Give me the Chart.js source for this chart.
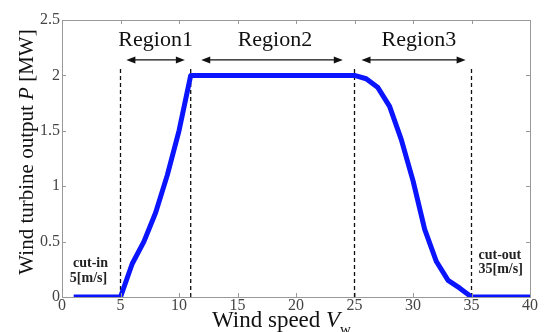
<!DOCTYPE html>
<html>
<head>
<meta charset="utf-8">
<script src="https://cdn.jsdelivr.net/npm/chart.js@4.4.1/dist/chart.umd.min.js"></script>
<style>
html,body{margin:0;padding:0;background:#fff;}
#wrap{width:544px;height:332px;position:relative;}
</style>
</head>
<body>
<div id="wrap"><canvas id="c" width="544" height="332"></canvas></div>
<script>
// ---- data ----
const windSpeed = [1, 5, 6, 7, 8, 9, 10, 11, 25, 26, 27, 28, 29, 30, 31, 32, 33, 34, 35, 40];
const power     = [0, 0, 0.3, 0.5, 0.76, 1.1, 1.5, 2.0, 2.0, 1.97, 1.89, 1.72, 1.42, 1.05, 0.61, 0.32, 0.15, 0.08, 0, 0];
const boundaries = [5, 11, 25, 35];
const boundaryTop = 2.07;
const regionNames = ['Region1', 'Region2', 'Region3'];
const arrowStart = [5.5, 11.9, 25.6];
const arrowEnd   = [10.5, 24.0, 34.5];
const arrowLevel = 2.14;
const labelX = [8.0, 18.2, 30.5];
const labelLevel = 2.32;
const xTicks = [0, 5, 10, 15, 20, 25, 30, 35, 40];
const yTicks = [0, 0.5, 1, 1.5, 2, 2.5];

const serif = '"Liberation Serif", "DejaVu Serif", serif';

const dashedSets = boundaries.map(b => ({
  label: 'b' + b,
  data: [{x: b, y: 0}, {x: b, y: boundaryTop}],
  borderColor: '#111',
  borderWidth: 1.3,
  borderDash: [4, 3],
  pointRadius: 0,
  order: 2
}));

const overlay = {
  id: 'overlay',
  afterDatasetsDraw(chart) {
    const ctx = chart.ctx, xs = chart.scales.x, ys = chart.scales.y;
    ctx.save();
    ctx.strokeStyle = '#111'; ctx.fillStyle = '#111'; ctx.lineWidth = 1.4;
    for (let i = 0; i < regionNames.length; i++) {
      const x1 = xs.getPixelForValue(arrowStart[i]);
      const x2 = xs.getPixelForValue(arrowEnd[i]);
      const y = ys.getPixelForValue(arrowLevel);
      ctx.beginPath(); ctx.moveTo(x1 + 4, y); ctx.lineTo(x2 - 4, y); ctx.stroke();
      ctx.beginPath(); ctx.moveTo(x1, y); ctx.lineTo(x1 + 9, y - 3.5); ctx.lineTo(x1 + 9, y + 3.5); ctx.closePath(); ctx.fill();
      ctx.beginPath(); ctx.moveTo(x2, y); ctx.lineTo(x2 - 9, y - 3.5); ctx.lineTo(x2 - 9, y + 3.5); ctx.closePath(); ctx.fill();
      ctx.font = '22px ' + serif;
      ctx.textAlign = 'center'; ctx.textBaseline = 'middle';
      ctx.fillText(regionNames[i], xs.getPixelForValue(labelX[i]), ys.getPixelForValue(labelLevel));
    }
    ctx.font = 'bold 14px ' + serif;
    ctx.fillStyle = '#222';
    ctx.textAlign = 'center'; ctx.textBaseline = 'middle';
    const cx = xs.getPixelForValue(boundaries[0]) - 32;
    ctx.fillText('cut-in', cx + 2, 263);
    ctx.fillText('5[m/s]', cx, 278);
    ctx.textAlign = 'left';
    const ox = xs.getPixelForValue(boundaries[3]) + 7;
    ctx.fillText('cut-out', ox, 255);
    ctx.fillText('35[m/s]', ox, 269);
    ctx.restore();
  },
  afterDraw(chart) {
    const ctx = chart.ctx, a = chart.chartArea, xs = chart.scales.x, ys = chart.scales.y;
    ctx.save();
    ctx.strokeStyle = '#999'; ctx.lineWidth = 1;
    ctx.strokeRect(a.left + 0.5, a.top + 0.5, a.right - a.left, a.bottom - a.top);
    ctx.beginPath();
    xTicks.forEach(v => {
      const x = Math.round(xs.getPixelForValue(v)) + 0.5;
      ctx.moveTo(x, a.top); ctx.lineTo(x, a.top + 4);
      ctx.moveTo(x, a.bottom); ctx.lineTo(x, a.bottom - 4);
    });
    yTicks.forEach(v => {
      const y = Math.round(ys.getPixelForValue(v)) + 0.5;
      ctx.moveTo(a.left, y); ctx.lineTo(a.left + 4, y);
      ctx.moveTo(a.right, y); ctx.lineTo(a.right - 4, y);
    });
    ctx.stroke();
    ctx.fillStyle = '#111';
    ctx.textBaseline = 'alphabetic';
    // x title
    ctx.font = '23px ' + serif;
    const t1 = 'Wind speed ';
    const w1 = ctx.measureText(t1).width;
    ctx.font = 'italic 23px ' + serif;
    const wV = ctx.measureText('V').width;
    const xStart = 212;
    const base = 327;
    ctx.font = '23px ' + serif;
    ctx.textAlign = 'left';
    ctx.fillText(t1, xStart, base);
    ctx.font = 'italic 23px ' + serif;
    ctx.fillText('V', xStart + w1, base);
    ctx.font = '15px ' + serif;
    ctx.fillText('w', xStart + w1 + wV, base + 7);
    // y title
    ctx.translate(33, 152);
    ctx.rotate(-Math.PI / 2);
    ctx.font = '21px ' + serif;
    const p1 = 'Wind turbine output ', p3 = ' [MW]';
    const a1 = ctx.measureText(p1).width, a3 = ctx.measureText(p3).width;
    ctx.font = 'italic 21px ' + serif;
    const a2 = ctx.measureText('P').width;
    let sx = -(a1 + a2 + a3) / 2;
    ctx.font = '21px ' + serif;
    ctx.fillText(p1, sx, 0);
    ctx.font = 'italic 21px ' + serif;
    ctx.fillText('P', sx + a1, 0);
    ctx.font = '21px ' + serif;
    ctx.fillText(p3, sx + a1 + a2, 0);
    ctx.restore();
  }
};

new Chart(document.getElementById('c'), {
  type: 'line',
  data: {
    datasets: [{
      label: 'power',
      data: windSpeed.map((x, i) => ({x, y: power[i]})),
      borderColor: '#0a14ff',
      borderWidth: 5,
      pointRadius: 0,
      tension: 0,
      borderJoinStyle: 'round',
      borderCapStyle: 'butt',
      order: 1
    }, ...dashedSets]
  },
  options: {
    responsive: false,
    animation: false,
    events: [],
    layout: {padding: {left: 0, right: 14, top: 20, bottom: 0}},
    plugins: {legend: {display: false}, tooltip: {enabled: false}},
    scales: {
      x: {
        type: 'linear', min: 0, max: 40,
        afterBuildTicks(s) { s.ticks = xTicks.map(v => ({value: v})); },
        afterFit(s) { s.height = 35; },
        grid: {display: false, drawTicks: false},
        border: {display: false},
        ticks: {color: '#444', padding: -1, font: {family: serif, size: 16}, maxRotation: 0,
                callback: v => String(v)}
      },
      y: {
        type: 'linear', min: 0, max: 2.5,
        afterBuildTicks(s) { s.ticks = yTicks.map(v => ({value: v})); },
        afterFit(s) { s.width = 62; },
        grid: {display: false, drawTicks: false},
        border: {display: false},
        ticks: {color: '#444', padding: 2, font: {family: serif, size: 16},
                callback: v => String(v)}
      }
    }
  },
  plugins: [overlay]
});
</script>
</body>
</html>
